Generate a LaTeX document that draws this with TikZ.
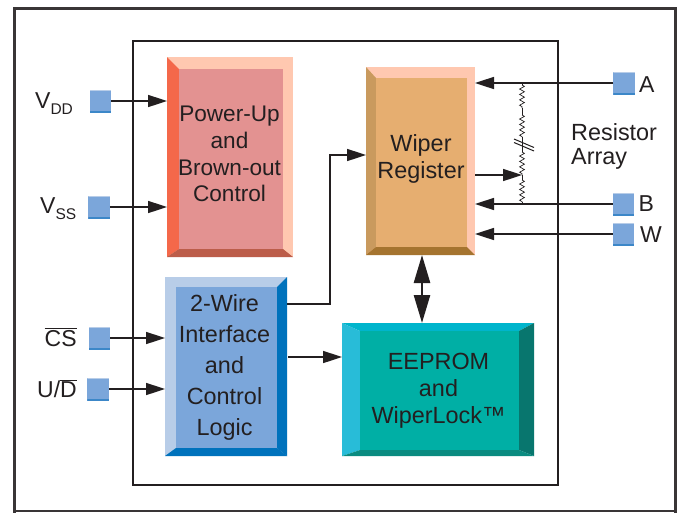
\documentclass[tikz,border=0pt]{standalone}
\usepackage{fontspec}
\setmainfont{Liberation Sans}
\usetikzlibrary{arrows.meta,decorations.pathmorphing}
\definecolor{ink}{HTML}{231F20}
\definecolor{padfill}{HTML}{7BA6DA}
\definecolor{padtop}{HTML}{B8CDE8}
\definecolor{padbot}{HTML}{3C87C8}
\definecolor{pwI}{HTML}{E39291}\definecolor{pwL}{HTML}{F4684A}\definecolor{pwT}{HTML}{FFC8B0}\definecolor{pwB}{HTML}{BC5D4A}
\definecolor{lgI}{HTML}{7BA6DA}\definecolor{lgT}{HTML}{B8CDE8}\definecolor{lgR}{HTML}{0072BC}
\definecolor{emI}{HTML}{00AFA5}\definecolor{emT}{HTML}{00B5CC}\definecolor{emL}{HTML}{28BCD8}\definecolor{emR}{HTML}{08766E}\definecolor{emB}{HTML}{0A8B80}
\definecolor{wpI}{HTML}{E6AE70}\definecolor{wpL}{HTML}{C99A5E}\definecolor{wpT}{HTML}{FFC8B0}\definecolor{wpB}{HTML}{A5742F}
\tikzset{
  x=1pt,y=-1pt,
  wire/.style={draw=ink,line width=1.6pt},
  arr/.style={wire,-{Triangle[length=19pt,width=12pt]}},
  dbl/.style={draw=ink,line width=2.6pt,{Triangle[length=28pt,width=16pt]}-{Triangle[length=28pt,width=16pt]}},
  blocktext/.style={font=\fontsize{23.4}{#1}\selectfont,text=ink,align=center,inner sep=0pt},
  lbl/.style={font=\fontsize{23}{24}\selectfont,text=ink,inner sep=0pt,anchor=base west},
  outerbox/.style={inner sep=0pt,outer sep=0pt},
  padbox/.style={minimum width=21.5pt,minimum height=23pt,inner sep=0pt,outer sep=0pt,fill=padfill,
    path picture={
      \fill[padtop] (path picture bounding box.north west) rectangle ([yshift=-1.6pt]path picture bounding box.north east);
      \fill[padbot] (path picture bounding box.south west) rectangle ([yshift=1.6pt]path picture bounding box.south east);
    }},
  res/.style={draw=ink,line width=0.7pt},
  zig/.style={res,decorate,decoration={zigzag,segment length=5.4pt,amplitude=2.4pt}},
}
\newcommand{\subs}[1]{\raisebox{-6pt}{\fontsize{15.5}{15.5}\selectfont #1}}
\begin{document}
\begin{tikzpicture}
\useasboundingbox (0,0) rectangle (678,512);
\fill[white] (0,0) rectangle (678,512);
% frames
\draw[ink!90,line width=2.6pt] (14.5,520) -- (14.5,8.5) -- (675.5,8.5) -- (675.5,520);
\draw[ink!90,line width=2pt] (14.5,511) -- (675.5,511);
\draw[ink,line width=1.8pt] (133,41) rectangle (558,485);
% Power-Up block
\fill[pwT] (167,57) rectangle (293,257);
\fill[pwL] (167,57) -- (179,69) -- (179,249) -- (167,257) -- cycle;
\fill[pwB] (167,257) -- (179,249) -- (283,249) -- (293,257) -- cycle;
\fill[pwI] (179,69) rectangle (283,249);
\node[outerbox,minimum width=126pt,minimum height=200pt] (power) at (230,157) {};
\node[blocktext=26.7pt,font=\fontsize{22.6}{26.7}\selectfont] (powertext) at (229.5,154) {Power-Up\\and\\Brown-out\\Control};
% Logic block
\fill[lgT] (165,277) rectangle (287,456);
\fill[lgR] (287,277) -- (277,287) -- (277,448) -- (287,456) -- cycle;
\fill[lgR] (165,456) -- (176,448) -- (277,448) -- (287,456) -- cycle;
\fill[lgI] (176,287) rectangle (277,448);
\node[outerbox,minimum width=122pt,minimum height=179pt] (logic) at (226,366.5) {};
\node[blocktext=31pt] (logictext) at (224.5,367) {2-Wire\\Interface\\and\\Control\\Logic};
% EEPROM block
\fill[emT] (342,323) -- (534,323) -- (519,331) -- (360,331) -- cycle;
\fill[emL] (342,323) -- (360,331) -- (360,450) -- (342,456) -- cycle;
\fill[emR] (534,323) -- (519,331) -- (519,450) -- (534,456) -- cycle;
\fill[emB] (342,456) -- (360,450) -- (519,450) -- (534,456) -- cycle;
\fill[emI] (360,331) rectangle (519,450);
\node[outerbox,minimum width=192pt,minimum height=133pt] (eeprom) at (438,389.5) {};
\node[blocktext=27pt] (eepromtext) at (438.5,391) {EEPROM\\and\\WiperLock™};
% Wiper block
\fill[wpT] (366,67) rectangle (475,255);
\fill[wpL] (366,67) -- (376,78) -- (376,247) -- (366,255) -- cycle;
\fill[wpB] (366,255) -- (376,247) -- (467,247) -- (475,255) -- cycle;
\fill[wpI] (376,78) rectangle (467,247);
\node[outerbox,minimum width=109pt,minimum height=188pt] (wiper) at (420.5,161) {};
\node[blocktext=27pt] (wipertext) at (421,158.5) {Wiper\\Register};
% pads
\node[padbox] (pvdd) at (100.5,101) {};
\node[padbox] (pvss) at (99,207) {};
\node[padbox] (pcs) at (99.5,338) {};
\node[padbox] (pud) at (98,389) {};
\node[padbox] (pa) at (624,83) {};
\node[padbox] (pb) at (623.5,204) {};
\node[padbox] (pw) at (623.5,234) {};
% labels
\node[lbl] (lvdd) at (35,108) {V\subs{DD}};
\node[lbl] (lvss) at (40,213) {V\subs{SS}};
\node[lbl] (lcs) at (44.5,346) {$\overline{\mbox{CS}}$};
\node[lbl] (lud) at (37,397) {U/$\overline{\mbox{D}}$};
\node[lbl] (la) at (639,92) {A};
\node[lbl] (lb) at (638.5,211) {B};
\node[lbl] (lw) at (640,242) {W};
\node[lbl,align=left,anchor=north west,font=\fontsize{23.4}{24}\selectfont] (lres) at (571,123) {Resistor\\Array};
% connectors
\draw[arr] (pvdd.east) -- (power.west |- pvdd);
\draw[arr] (pvss.east) -- (power.west |- pvss);
\draw[arr] (pcs.east) -- (logic.west |- pcs);
\draw[arr] (pud.east) -- (logic.west |- pud);
\draw[arr] (pa.west) -- (wiper.east |- pa);
\draw[arr] (pb.west) -- (wiper.east |- pb);
\draw[arr] (pw.west) -- (wiper.east |- pw);
\coordinate (lgout) at (logic.east |- 0,304);
\coordinate (wpin) at (wiper.west |- 0,155);
\draw[arr] (lgout) -- (330,304) -- (330,155) -- (wpin);
\coordinate (lgout2) at (288,357);
\draw[arr] (lgout2) -- (eeprom.west |- lgout2);
\coordinate (dbltop) at (422,255);
\draw[dbl] (dbltop) -- (dbltop |- eeprom.north);
% resistor array
\coordinate (ra) at (522,83);
\coordinate (rb) at (522,204);
\coordinate (rw) at (522,175);
\draw[res] (ra) -- (522,85);
\draw[zig] (522,85) -- (522,108);
\draw[res] (522,108) -- (522,115);
\draw[zig] (522,115) -- (522,137);
\draw[res] (522,137) -- (522,152);
\draw[zig] (522,152) -- (rw);
\draw[res] (rw) -- (522,180);
\draw[zig] (522,180) -- (522,202);
\draw[res] (522,202) -- (rb);
\draw[draw=ink,line width=1pt] (514,139) -- (534,147.5);
\draw[draw=ink,line width=1pt] (514,142.5) -- (534,151);
\draw[arr] (wiper.east |- rw) -- (rw);
\end{tikzpicture}
\end{document}
